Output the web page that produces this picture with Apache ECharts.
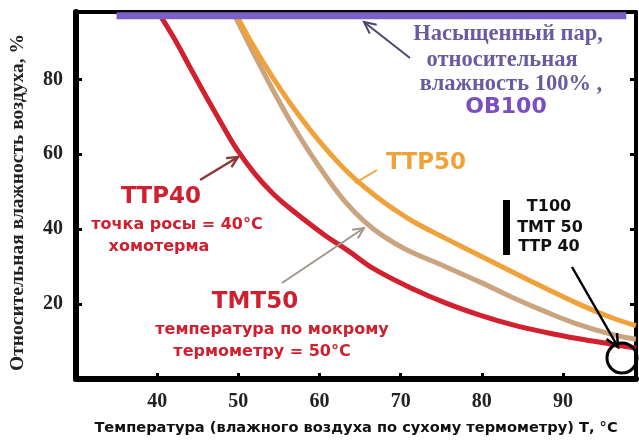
<!DOCTYPE html>
<html><head><meta charset="utf-8">
<script src="https://cdn.jsdelivr.net/npm/echarts@6/dist/echarts.min.js"></script>
<style>html,body{margin:0;padding:0;background:#fff}#c{width:639px;height:441px}</style>
</head><body><div id="c"></div>
<script>
// Tick labels
const xTicks = [40, 50, 60, 70, 80, 90];
const yTicks = [20, 40, 60, 80];

// ТТР40 – dew point 40 °C (red)
const ttp40X = [40.25, 42.09, 43.94, 45.79, 47.64, 49.85, 52.07, 54.29, 56.5, 60.57, 63.65, 66.72, 71.4, 75.59, 79.66, 83.72, 87.91, 91.97, 96.03, 98.99];
const ttp40Y = [97.49, 90.96, 83.66, 76.35, 69.31, 61.22, 54.7, 49.48, 45.31, 38.52, 34.09, 29.39, 24.17, 20.26, 17.13, 14.52, 12.43, 10.74, 9.3, 8.26];

// ТМТ50 – wet bulb 50 °C (tan)
const tmt50X = [49.48, 51.08, 52.81, 54.66, 56.63, 58.72, 60.94, 63.15, 65.49, 67.96, 70.67, 75.59, 79.66, 83.72, 87.91, 91.97, 96.03, 98.99];
const tmt50Y = [97.49, 90.44, 83.14, 75.57, 68.0, 60.7, 53.66, 47.39, 42.18, 38.0, 34.61, 29.91, 26.0, 21.83, 17.91, 14.52, 11.91, 10.61];

// ТТР50 – dew point 50 °C (orange)
const ttp50X = [49.69, 51.33, 53.18, 55.27, 57.49, 59.95, 62.41, 64.26, 66.72, 69.19, 71.65, 75.59, 79.66, 83.72, 87.91, 91.97, 96.03, 98.99];
const ttp50Y = [97.49, 90.96, 84.18, 77.14, 70.35, 63.57, 57.57, 53.66, 49.22, 45.31, 41.92, 37.48, 33.04, 28.61, 24.17, 20.0, 16.35, 14.26];

// ОВ100 – saturated vapour (purple)
const ob100X = [35, 97.8];
const ob100Y = [97, 97];

const zip = (xs, ys) => xs.map((x, i) => [x, ys[i]]);

const chart = echarts.init(document.getElementById('c'), null, {renderer: 'canvas'});

const SERIF = '"Liberation Serif", "DejaVu Serif", serif';
const SANS = '"DejaVu Sans", sans-serif';

function txt(text, x, y, font, fill) {
  return {type: 'text', x: x, y: y, z: 100,
    style: {text: text, font: font, fill: fill, align: 'center', verticalAlign: 'middle'}};
}
function arrow(x1, y1, x2, y2, color, w, head) {
  const a = Math.atan2(y2 - y1, x2 - x1);
  const s = 0.45;
  const p1 = [x2 - head * Math.cos(a - s), y2 - head * Math.sin(a - s)];
  const p2 = [x2 - head * Math.cos(a + s), y2 - head * Math.sin(a + s)];
  return [
    {type: 'line', z: 100, shape: {x1: x1, y1: y1, x2: x2, y2: y2}, style: {stroke: color, lineWidth: w}},
    {type: 'polyline', z: 100, shape: {points: [p1, [x2, y2], p2]}, style: {stroke: color, lineWidth: w, fill: 'none'}}
  ];
}

const purpleTxt = '#6a5b9f';
const redTxt = '#cf2030';

const graphics = [].concat(
  arrow(410, 58, 364, 22, '#4b4670', 2, 13),
  [txt('Насыщенный пар,', 508, 34, 'bold 22.5px ' + SERIF, purpleTxt),
   txt('относительная', 502, 60, 'bold 22.5px ' + SERIF, purpleTxt),
   txt('влажность 100% ,', 511, 84, 'bold 22.5px ' + SERIF, purpleTxt),
   txt('ОВ100', 506, 107, 'bold 22px ' + SANS, '#7a4fc0'),
   {type: 'line', z: 100, shape: {x1: 355, y1: 183, x2: 377, y2: 170}, style: {stroke: '#f0a23a', lineWidth: 2}},
   txt('ТТР50', 426, 163, 'bold 23px ' + SANS, '#f0a23a'),
   txt('ТТР40', 161, 197, 'bold 23px ' + SANS, redTxt),
   txt('точка росы = 40°C', 177, 225, 'bold 16px ' + SANS, redTxt),
   txt('хомотерма', 159, 247, 'bold 16px ' + SANS, redTxt),
   txt('ТМТ50', 255, 302, 'bold 23px ' + SANS, redTxt),
   txt('температура по мокрому', 272, 330, 'bold 16px ' + SANS, redTxt),
   txt('термометру = 50°C', 262, 352, 'bold 16px ' + SANS, redTxt),
   {type: 'rect', z: 100, shape: {x: 503, y: 200, width: 7, height: 55}, style: {fill: '#000'}},
   txt('Т100', 549, 207, 'bold 16px ' + SANS, '#111'),
   txt('ТМТ 50', 550, 228, 'bold 16px ' + SANS, '#111'),
   txt('ТТР 40', 549, 247, 'bold 16px ' + SANS, '#111'),
   {type: 'circle', z: 100, shape: {cx: 622, cy: 358, r: 15}, style: {fill: 'none', stroke: '#000', lineWidth: 3}}
  ],
  arrow(200, 180, 238, 157, '#8b3a3a', 2.5, 12),
  arrow(282, 283, 364, 228, '#a0968a', 2, 12),
  arrow(572, 267, 618, 347, '#000', 2.5, 14)
);

const tickStyle = {show: true, inside: true, length: 6, lineStyle: {color: '#000', width: 3}};

const option = {
  animation: false,
  backgroundColor: '#fff',
  grid: {left: 75, top: 12, right: 3, bottom: 54, containLabel: false},
  xAxis: [
    {type: 'value', min: 30, max: 99, position: 'bottom',
     axisLine: {show: true, onZero: false, lineStyle: {color: '#000', width: 6}},
     axisTick: Object.assign({customValues: xTicks}, tickStyle),
     axisLabel: {customValues: xTicks, fontFamily: SERIF, fontWeight: 'bold', fontSize: 20, color: '#222', margin: 13},
     splitLine: {show: false},
     name: 'Температура (влажного воздуха по сухому термометру) Т, °C',
     nameLocation: 'middle', nameGap: 42,
     nameTextStyle: {fontFamily: SANS, fontWeight: 'bold', fontSize: 14.6, color: '#111'}},
    {type: 'value', min: 30, max: 99, position: 'top',
     axisLine: {show: true, onZero: false, lineStyle: {color: '#000', width: 4}},
     axisTick: Object.assign({customValues: xTicks}, tickStyle),
     axisLabel: {show: false}, splitLine: {show: false}}
  ],
  yAxis: [
    {type: 'value', min: 0, max: 98, position: 'left',
     axisLine: {show: true, onZero: false, lineStyle: {color: '#000', width: 6}},
     axisTick: Object.assign({customValues: yTicks}, tickStyle),
     axisLabel: {customValues: yTicks, fontFamily: SERIF, fontWeight: 'bold', fontSize: 20, color: '#222', margin: 13},
     splitLine: {show: false},
     name: 'Относительная влажность воздуха, %',
     nameLocation: 'middle', nameGap: 48,
     nameTextStyle: {fontFamily: SERIF, fontWeight: 'bold', fontSize: 19.5, color: '#222', padding: [0, 14, 0, 0]}},
    {type: 'value', min: 0, max: 98, position: 'right',
     axisLine: {show: true, onZero: false, lineStyle: {color: '#000', width: 4}},
     axisTick: Object.assign({customValues: yTicks}, tickStyle),
     axisLabel: {show: false}, splitLine: {show: false}}
  ],
  series: [
    {name: 'ТМТ50', type: 'line', data: zip(tmt50X, tmt50Y), smooth: 0.4, symbol: 'none',
     lineStyle: {color: '#c9a47e', width: 5}},
    {name: 'ТТР50', type: 'line', data: zip(ttp50X, ttp50Y), smooth: 0.4, symbol: 'none',
     lineStyle: {color: '#f0a23a', width: 5}},
    {name: 'ТТР40', type: 'line', data: zip(ttp40X, ttp40Y), smooth: 0.4, symbol: 'none',
     lineStyle: {color: '#d2202e', width: 5}},
    {name: 'ОВ100', type: 'line', data: zip(ob100X, ob100Y), symbol: 'none',
     lineStyle: {color: '#7a5fc8', width: 7}}
  ],
  graphic: graphics
};
chart.setOption(option);
</script>
</body></html>
